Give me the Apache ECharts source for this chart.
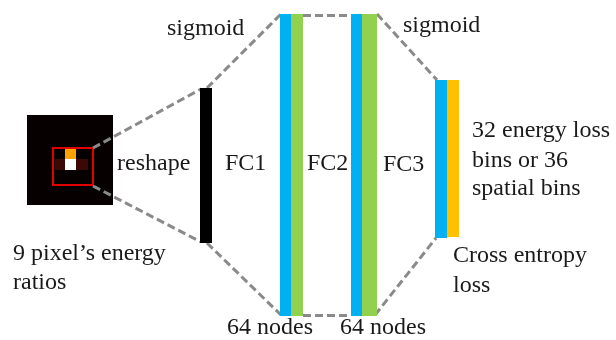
<!DOCTYPE html>
<html>
<head>
<meta charset="utf-8">
<script src="https://cdn.jsdelivr.net/npm/echarts@6/dist/echarts.min.js"></script>
<style>
html, body { margin: 0; padding: 0; background: #fff; }
#chart { width: 616px; height: 340px; }
</style>
</head>
<body>
<div id="chart"></div>
<script>
// all geometry in figure units (0..616 across, 0..340 down)
var layers = [
    // x0, y0, x1, y1, kind
    [200, 88, 212, 243, 'input'],
    [280, 14, 291, 316, 'linear'],
    [291, 14, 303, 316, 'act'],
    [351, 14, 362, 316, 'linear'],
    [362, 14, 377, 316, 'act'],
    [435, 80, 447, 238, 'linear'],
    [447, 80, 459, 237, 'out']
];
var pixels = [
    [27, 115, 113, 205, 'bg'],
    [55, 159, 65, 170, 'warm'],
    [76, 159, 88, 170, 'warm'],
    [65, 148, 76, 159, 'hot'],
    [65, 159, 76, 170, 'peak']
];
var cropBox = [[53, 148, 93, 185]];
var connectors = [
    [[93, 148], [201, 89]],
    [[93, 186], [201, 242]],
    [[207, 88], [281, 14]],
    [[207, 243], [281, 315]],
    [[303, 15], [351, 15]],
    [[303, 315], [351, 315]],
    [[377, 14], [437, 80]],
    [[375, 315], [436, 238]]
];
var labels = [
    [167, 29, 'sigmoid'],
    [403, 26, 'sigmoid'],
    [117, 164, 'reshape'],
    [225, 164, 'FC1'],
    [307, 164, 'FC2'],
    [383, 165, 'FC3'],
    [13, 254, '9 pixel\u2019s energy'],
    [13, 283, 'ratios'],
    [472, 131, '32 energy loss'],
    [472, 161, 'bins or 36'],
    [472, 189, 'spatial bins'],
    [453, 256, 'Cross entropy'],
    [453, 286, 'loss'],
    [227, 328, '64 nodes'],
    [340, 328, '64 nodes']
];

var layerColor = { input: '#000000', linear: '#00b0f0', act: '#92d050', out: '#ffc000' };
var pixelColor = { bg: '#070000', warm: '#3a0805', hot: '#ffa200', peak: '#ffffff' };

function rectFrom(d, api) {
    var p0 = api.coord([d[0], d[1]]);
    var p1 = api.coord([d[2], d[3]]);
    return {
        x: Math.min(p0[0], p1[0]), y: Math.min(p0[1], p1[1]),
        width: Math.abs(p1[0] - p0[0]), height: Math.abs(p1[1] - p0[1])
    };
}

var myChart = echarts.init(document.getElementById('chart'));
var option = {
    animation: false,
    grid: { left: 0, right: 0, top: 0, bottom: 0 },
    xAxis: { type: 'value', min: 0, max: 616, show: false },
    yAxis: { type: 'value', min: 0, max: 340, inverse: true, show: false },
    series: [
        {
            type: 'custom',
            name: 'pixels',
            data: pixels.map(function (d) { return [d[0], d[1]]; }),
            renderItem: function (params, api) {
                var d = pixels[params.dataIndex];
                return { type: 'rect', shape: rectFrom(d, api), style: { fill: pixelColor[d[4]] } };
            }
        },
        {
            type: 'custom',
            name: 'crop',
            data: cropBox.map(function (d) { return [d[0], d[1]]; }),
            renderItem: function (params, api) {
                var d = cropBox[params.dataIndex];
                return { type: 'rect', shape: rectFrom(d, api), style: { fill: 'none', stroke: '#e00000', lineWidth: 2 } };
            }
        },
        {
            type: 'lines',
            coordinateSystem: 'cartesian2d',
            silent: true,
            data: connectors.map(function (c) { return { coords: c }; }),
            lineStyle: { color: '#8a8a8a', width: 3, type: [8, 4], opacity: 1 }
        },
        {
            type: 'custom',
            name: 'layers',
            data: layers.map(function (d) { return [d[0], d[1]]; }),
            renderItem: function (params, api) {
                var d = layers[params.dataIndex];
                return { type: 'rect', shape: rectFrom(d, api), style: { fill: layerColor[d[4]] } };
            }
        },
        {
            type: 'custom',
            name: 'labels',
            data: labels.map(function (d) { return [d[0], d[1]]; }),
            renderItem: function (params, api) {
                var d = labels[params.dataIndex];
                var p = api.coord([d[0], d[1]]);
                return {
                    type: 'text', x: p[0], y: p[1],
                    style: {
                        text: d[2], font: '24px "Liberation Serif"', fill: '#1a1a1a',
                        align: 'left', verticalAlign: 'middle'
                    }
                };
            }
        }
    ]
};
myChart.setOption(option);
</script>
</body>
</html>
